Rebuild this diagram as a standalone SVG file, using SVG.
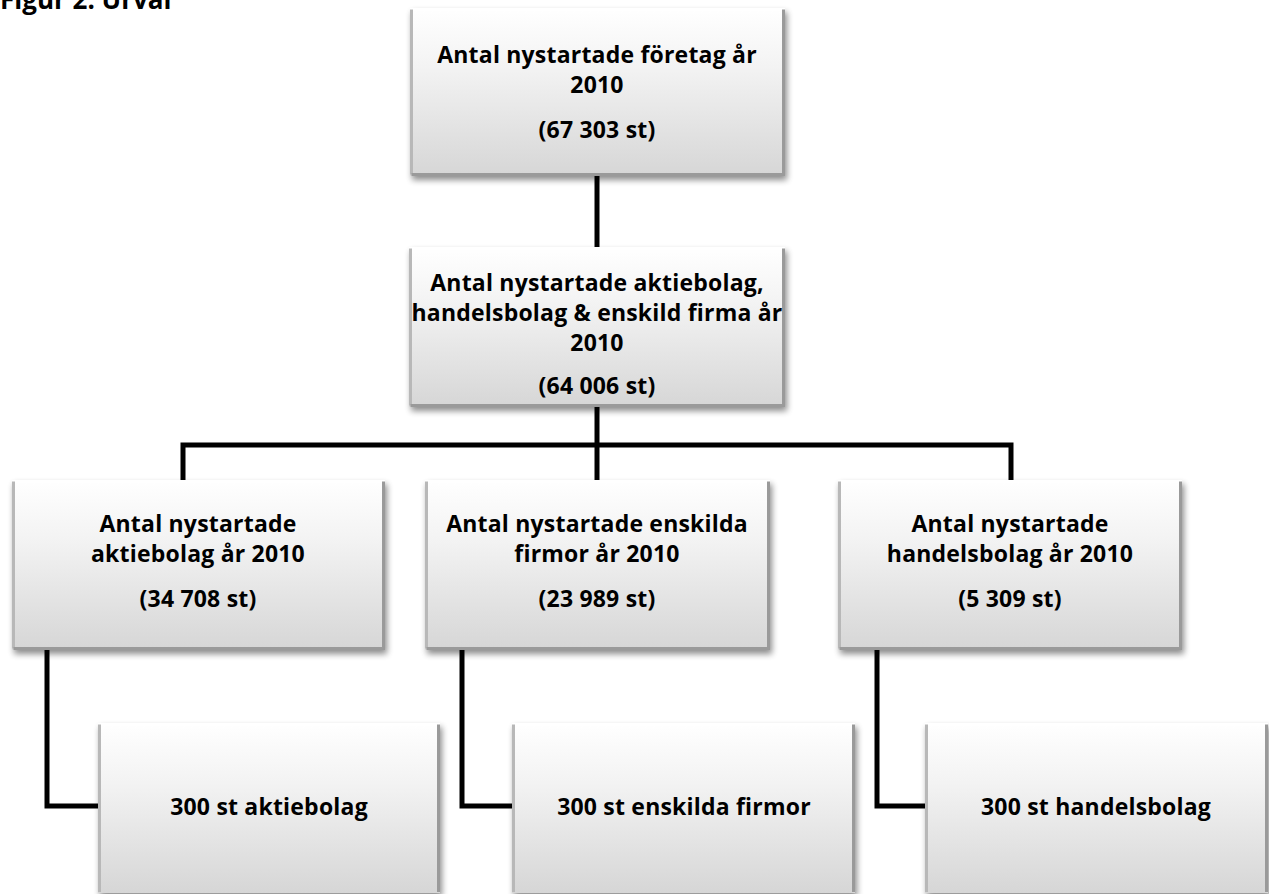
<svg xmlns="http://www.w3.org/2000/svg" width="1269" height="894" viewBox="0 0 1269 894">
<style>
.t{font-family:"Open Sans","Liberation Sans",sans-serif;font-weight:bold;font-size:23px;letter-spacing:0.2px;fill:#000;text-anchor:middle}
.ttl{font-family:"Open Sans","Liberation Sans",sans-serif;font-weight:bold;font-size:26px;fill:#000}
.box{fill:url(#g);stroke:none;filter:url(#sh)}
.hl{fill:none;stroke:#ffffff;stroke-width:3}
.lf{fill:none;stroke:#b8b8b8;stroke-width:3}
.dk{fill:none;stroke:#9a9a9a;stroke-width:3}
.c{fill:none;stroke:#000;stroke-width:5;stroke-linejoin:miter}
</style>
<defs>
<linearGradient id="g" x1="0" y1="0" x2="0" y2="1">
<stop offset="0" stop-color="#ffffff"/>
<stop offset="0.35" stop-color="#f3f3f3"/>
<stop offset="1" stop-color="#d6d6d6"/>
</linearGradient>
<filter id="sh" x="-10%" y="-10%" width="125%" height="130%">
<feGaussianBlur in="SourceAlpha" stdDeviation="3"/>
<feOffset dx="2" dy="4" result="b"/>
<feComponentTransfer><feFuncA type="linear" slope="0.45"/></feComponentTransfer>
<feMerge><feMergeNode/><feMergeNode in="SourceGraphic"/></feMerge>
</filter>
</defs>
<rect width="1269" height="894" fill="#fff"/>
<text class="ttl" x="0" y="9">Figur 2. Urval</text>
<g id="connectors">
<path class="c" d="M597 176 V247"/>
<path class="c" d="M597 407 V480"/>
<path class="c" d="M183 480 V445 H1011 V480"/>
<path class="c" d="M47 650 V806 H98"/>
<path class="c" d="M462 650 V806 H512"/>
<path class="c" d="M877 650 V806 H925"/>
</g>
<g id="n1">
<rect class="box" x="410" y="8" width="375" height="168"/>
<path class="hl" d="M411.5 9.5 H783.5"/><path class="lf" d="M411.5 9.5 V174.5"/><path class="dk" d="M783.5 9.5 V174.5 H411.5"/>
<text class="t" x="597" y="63">Antal nystartade företag år</text>
<text class="t" x="597" y="93">2010</text>
<text class="t" x="597" y="138">(67 303 st)</text>
</g>
<g id="n2">
<rect class="box" x="409" y="247" width="376" height="160"/>
<path class="hl" d="M410.5 248.5 H783.5"/><path class="lf" d="M410.5 248.5 V405.5"/><path class="dk" d="M783.5 248.5 V405.5 H410.5"/>
<text class="t" x="597" y="291">Antal nystartade aktiebolag,</text>
<text class="t" x="597" y="321">handelsbolag &amp; enskild firma år</text>
<text class="t" x="597" y="351">2010</text>
<text class="t" x="597" y="394">(64 006 st)</text>
</g>
<g id="n3">
<rect class="box" x="12" y="480" width="373" height="170"/>
<path class="hl" d="M13.5 481.5 H383.5"/><path class="lf" d="M13.5 481.5 V648.5"/><path class="dk" d="M383.5 481.5 V648.5 H13.5"/>
<text class="t" x="198" y="532">Antal nystartade</text>
<text class="t" x="198" y="562">aktiebolag år 2010</text>
<text class="t" x="198" y="607">(34 708 st)</text>
</g>
<g id="n4">
<rect class="box" x="425" y="480" width="345" height="170"/>
<path class="hl" d="M426.5 481.5 H768.5"/><path class="lf" d="M426.5 481.5 V648.5"/><path class="dk" d="M768.5 481.5 V648.5 H426.5"/>
<text class="t" x="597" y="532">Antal nystartade enskilda</text>
<text class="t" x="597" y="562">firmor år 2010</text>
<text class="t" x="597" y="607">(23 989 st)</text>
</g>
<g id="n5">
<rect class="box" x="838" y="480" width="344" height="170"/>
<path class="hl" d="M839.5 481.5 H1180.5"/><path class="lf" d="M839.5 481.5 V648.5"/><path class="dk" d="M1180.5 481.5 V648.5 H839.5"/>
<text class="t" x="1010" y="532">Antal nystartade</text>
<text class="t" x="1010" y="562">handelsbolag år 2010</text>
<text class="t" x="1010" y="607">(5 309 st)</text>
</g>
<g id="n6">
<rect class="box" x="98" y="723" width="342" height="170"/>
<path class="hl" d="M99.5 724.5 H438.5"/><path class="lf" d="M99.5 724.5 V892"/><path class="dk" d="M438.5 724.5 V892"/>
<text class="t" x="269" y="815">300 st aktiebolag</text>
</g>
<g id="n7">
<rect class="box" x="512" y="723" width="343" height="170"/>
<path class="hl" d="M513.5 724.5 H853.5"/><path class="lf" d="M513.5 724.5 V892"/><path class="dk" d="M853.5 724.5 V892"/>
<text class="t" x="684" y="815">300 st enskilda firmor</text>
</g>
<g id="n8">
<rect class="box" x="925" y="723" width="343" height="170"/>
<path class="hl" d="M926.5 724.5 H1266.5"/><path class="lf" d="M926.5 724.5 V892"/><path class="dk" d="M1266.5 724.5 V892"/>
<text class="t" x="1096" y="815">300 st handelsbolag</text>
</g>
</svg>
